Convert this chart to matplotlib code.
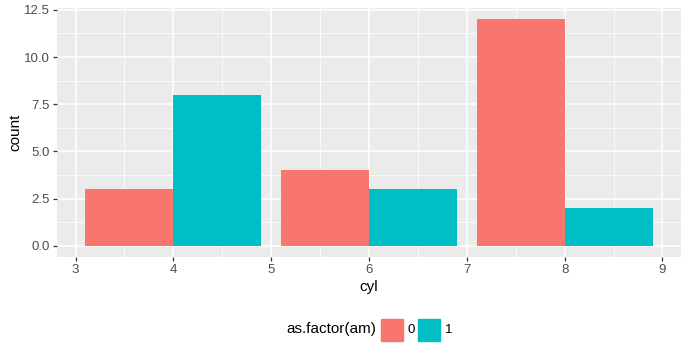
import numpy as np
import matplotlib
matplotlib.use("Agg")
from matplotlib import pyplot as plt
from matplotlib.patches import Rectangle

plt.rcParams["font.family"] = ["Liberation Sans", "DejaVu Sans"]

# mtcars: counts of cars by cylinders and transmission
cyl = [4, 6, 8]
am_levels = ["0", "1"]
counts_am0 = [3, 4, 12]
counts_am1 = [8, 3, 2]
colors = ["#F8766D", "#00BFC4"]

x_ticks = [3, 4, 5, 6, 7, 8, 9]
y_ticks = [0.0, 2.5, 5.0, 7.5, 10.0, 12.5]

fig = plt.figure(figsize=(6.89, 3.57), dpi=100)
ax = fig.add_axes([57 / 689, 100 / 357, 624 / 689, 249 / 357])
ax.set_facecolor("#EBEBEB")

x = np.array(cyl, dtype=float)
w = 0.9
ax.bar(x - w / 2, counts_am0, width=w, color=colors[0], zorder=3)
ax.bar(x + w / 2, counts_am1, width=w, color=colors[1], zorder=3)

ax.set_xlim(2.81, 9.19)
ax.set_ylim(-0.6, 12.6)
ax.set_xticks(x_ticks)
ax.set_yticks(y_ticks)
ax.set_xticks(np.arange(3.5, 9.0, 1.0), minor=True)
ax.set_yticks(np.arange(1.25, 12.6, 2.5), minor=True)
ax.set_yticklabels([f"{v:.1f}" for v in y_ticks])

ax.grid(which="major", color="white", linewidth=1.1, zorder=0)
ax.grid(which="minor", color="white", linewidth=0.55, zorder=0)
ax.set_axisbelow(True)
for s in ax.spines.values():
    s.set_visible(False)

ax.tick_params(which="major", length=3, width=0.9, color="#333333",
               labelsize=9.5, labelcolor="#4D4D4D", pad=2)
ax.tick_params(which="minor", length=0)

ax.set_xlabel("cyl", fontsize=11, labelpad=3)
ax.set_ylabel("count", fontsize=11, labelpad=1)

# legend at the bottom, ggplot style
fig.text(376 / 689, 1 - 329 / 357, "as.factor(am)", fontsize=11,
         ha="right", va="center")
key_x = [381, 418]
for kx, col, lab in zip(key_x, colors, am_levels):
    fig.patches.append(Rectangle((kx / 689, 1 - 341 / 357), 22 / 689, 22 / 357,
                                 transform=fig.transFigure, color=col))
    fig.text((kx + 27) / 689, 1 - 330 / 357, lab, fontsize=9.5,
             ha="left", va="center")

fig.savefig("out.png", dpi=100)
